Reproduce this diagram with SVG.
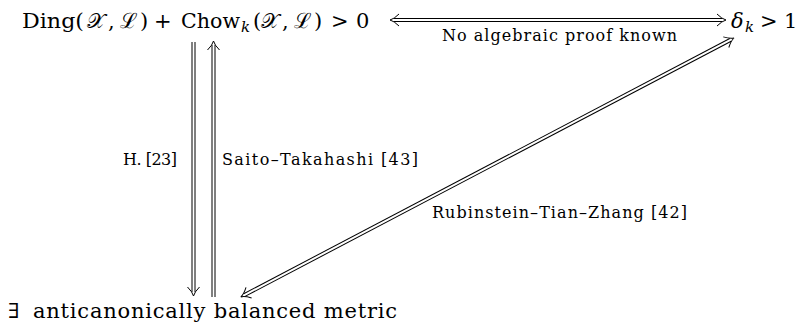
<svg xmlns="http://www.w3.org/2000/svg" width="807" height="327" viewBox="0 0 807 327">
<style>
.m{font-family:"DejaVu Serif","Liberation Serif",serif;font-size:21px;fill:#000}
.l{font-family:"DejaVu Serif","Liberation Serif",serif;font-size:16px;fill:#000}
.i{font-style:italic}
.s{font-style:italic;font-size:15px}
.e line,.e path{stroke:#000;stroke-width:1;fill:none}
</style>
<rect width="807" height="327" fill="#fff"/>
<g id="node-ding">
<text class="m" y="28"><tspan x="22" textLength="62" lengthAdjust="spacingAndGlyphs">Ding(</tspan><tspan x="87">𝒳</tspan><tspan x="108">,</tspan><tspan x="120">ℒ</tspan><tspan x="140">)</tspan><tspan x="154">+</tspan><tspan x="181" textLength="59" lengthAdjust="spacingAndGlyphs">Chow</tspan><tspan class="s" x="241" y="32">k</tspan><tspan x="253" y="28">(</tspan><tspan x="261">𝒳</tspan><tspan x="282">,</tspan><tspan x="294">ℒ</tspan><tspan x="314">)</tspan><tspan x="331">&gt;</tspan><tspan x="356">0</tspan></text>
</g>
<g id="node-delta">
<text class="m" y="28"><tspan class="i" x="731">δ</tspan><tspan class="s" x="745" y="32">k</tspan><tspan x="760" y="28">&gt;</tspan><tspan x="784">1</tspan></text>
</g>
<g id="node-balanced">
<text class="m" y="318"><tspan x="8">∃</tspan><tspan x="33" textLength="364" lengthAdjust="spacing">anticanonically balanced metric</tspan></text>
</g>
<g id="edges" class="e">
<line x1="394" y1="18.5" x2="722" y2="18.5"/>
<line x1="394" y1="21.5" x2="722" y2="21.5"/>
<path d="M399,14 Q394,19 390,20 Q394,21 399,26"/>
<path d="M717,14 Q722,19 726,20 Q722,21 717,26"/>
<line x1="192" y1="42" x2="192" y2="292"/>
<line x1="195" y1="42" x2="195" y2="292"/>
<path d="M187.5,287 Q192.5,292 193.5,296 Q194.5,292 199.5,287"/>
<line x1="212" y1="45" x2="212" y2="297"/>
<line x1="215" y1="45" x2="215" y2="297"/>
<path d="M207.5,50 Q212.5,45 213.5,41 Q214.5,45 219.5,50"/>
<g transform="translate(734,38) rotate(152.3)">
<line x1="4" y1="-1.5" x2="553" y2="-1.5"/>
<line x1="4" y1="1.5" x2="553" y2="1.5"/>
<path d="M9,-6 Q4,-1 0,0 Q4,1 9,6"/>
<path d="M548,-6 Q553,-1 557,0 Q553,1 548,6"/>
</g>
<text class="l" x="442" y="41" textLength="235" lengthAdjust="spacing">No algebraic proof known</text>
<text class="l" x="123" y="165" textLength="54" lengthAdjust="spacing">H. [23]</text>
<text class="l" x="222" y="165" textLength="196" lengthAdjust="spacing">Saito–Takahashi [43]</text>
<text class="l" x="432" y="218" textLength="255" lengthAdjust="spacing">Rubinstein–Tian–Zhang [42]</text>
</g>
</svg>
